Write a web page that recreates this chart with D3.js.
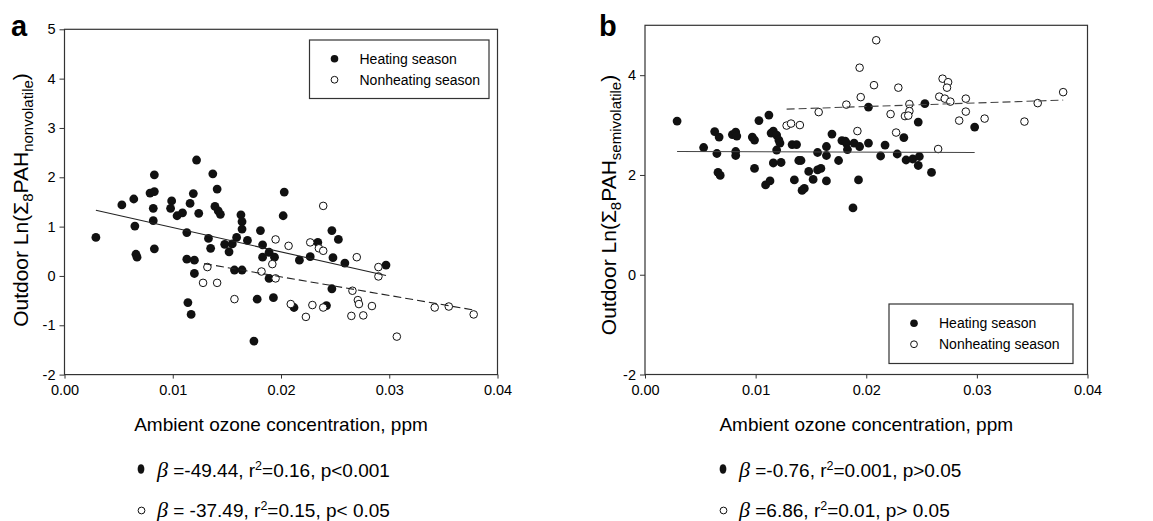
<!DOCTYPE html>
<html>
<head>
<meta charset="utf-8">
<script src="https://cdn.jsdelivr.net/npm/d3@7"></script>
<style>
  body { margin: 0; background: #fff; }
</style>
</head>
<body>
<div id="chart"></div>
<script>
// Data: [ozone ppm, Ln(PAH)]
const heatingA = [[0.0029,0.78],[0.0053,1.44],[0.0064,1.56],[0.0065,1.01],[0.0066,0.44],[0.0067,0.38],[0.0079,1.68],[0.0083,1.71],[0.0083,2.05],[0.0082,1.37],[0.0082,1.12],[0.0083,0.55],[0.0099,1.52],[0.0098,1.37],[0.0104,1.22],[0.0109,1.28],[0.0116,1.47],[0.0119,1.67],[0.0122,2.35],[0.0124,1.27],[0.0113,0.88],[0.0113,0.34],[0.0120,0.32],[0.0120,0.05],[0.0137,2.07],[0.0141,1.76],[0.0139,1.41],[0.0142,1.32],[0.0144,1.25],[0.0133,0.76],[0.0135,0.56],[0.0148,0.64],[0.0152,0.49],[0.0155,0.65],[0.0159,0.78],[0.0157,0.12],[0.0164,0.12],[0.0163,1.24],[0.0164,1.10],[0.0164,0.95],[0.0169,0.72],[0.0181,0.92],[0.0183,0.63],[0.0183,0.38],[0.0189,0.48],[0.0194,0.38],[0.0189,-0.05],[0.0203,1.70],[0.0202,1.22],[0.0217,0.32],[0.0227,0.39],[0.0234,0.68],[0.0247,0.92],[0.0253,0.74],[0.0248,0.37],[0.0259,0.26],[0.0297,0.22],[0.0247,-0.26],[0.0114,-0.54],[0.0117,-0.78],[0.0178,-0.47],[0.0193,-0.44],[0.0212,-0.64],[0.0242,-0.60],[0.0175,-1.32]];
const nonheatingA = [[0.0132,0.18],[0.0195,0.74],[0.0207,0.61],[0.0239,1.42],[0.0227,0.68],[0.0235,0.56],[0.0239,0.51],[0.0182,0.09],[0.0192,0.24],[0.0195,-0.05],[0.0270,0.38],[0.0290,0.18],[0.0290,-0.01],[0.0128,-0.14],[0.0141,-0.14],[0.0157,-0.47],[0.0209,-0.57],[0.0229,-0.59],[0.0223,-0.83],[0.0239,-0.64],[0.0266,-0.30],[0.0271,-0.49],[0.0272,-0.57],[0.0265,-0.81],[0.0276,-0.80],[0.0284,-0.61],[0.0307,-1.23],[0.0342,-0.64],[0.0355,-0.62],[0.0378,-0.78]];
const fitHeatingA = [[0.0029,1.33],[0.0297,0.01]];
const fitNonheatingA = [[0.0129,0.25],[0.0378,-0.69]];

const heatingB = [[0.0029,3.08],[0.0053,2.55],[0.0063,2.87],[0.0067,2.76],[0.0065,2.43],[0.0066,2.05],[0.0068,1.99],[0.0079,2.81],[0.0082,2.86],[0.0083,2.78],[0.0082,2.47],[0.0082,2.39],[0.0097,2.76],[0.0099,2.70],[0.0099,2.13],[0.0103,3.09],[0.0112,3.20],[0.0114,2.84],[0.0116,2.88],[0.0119,2.80],[0.0121,2.70],[0.0122,2.64],[0.0119,2.50],[0.0116,2.24],[0.0123,2.25],[0.0109,1.80],[0.0113,1.88],[0.0133,2.61],[0.0137,2.61],[0.0135,1.90],[0.0139,2.29],[0.0141,2.29],[0.0142,1.69],[0.0144,1.73],[0.0148,2.07],[0.0152,1.91],[0.0156,2.10],[0.0159,2.13],[0.0156,2.45],[0.0164,2.57],[0.0164,2.39],[0.0164,1.88],[0.0169,2.82],[0.0175,2.29],[0.0178,2.69],[0.0181,2.68],[0.0182,2.64],[0.0183,2.51],[0.0189,2.64],[0.0194,2.57],[0.0193,1.90],[0.0188,1.34],[0.0202,2.64],[0.0202,3.36],[0.0213,2.38],[0.0217,2.60],[0.0228,2.42],[0.0234,2.75],[0.0236,2.30],[0.0242,2.32],[0.0247,2.19],[0.0248,2.37],[0.0247,3.06],[0.0253,3.43],[0.0259,2.05],[0.0298,2.96]];
const nonheatingB = [[0.0128,2.99],[0.0132,3.03],[0.0140,3.00],[0.0157,3.26],[0.0182,3.41],[0.0194,4.15],[0.0195,3.56],[0.0192,2.88],[0.0207,3.80],[0.0209,4.70],[0.0222,3.22],[0.0229,3.75],[0.0227,2.85],[0.0235,3.18],[0.0239,3.42],[0.0239,3.28],[0.0238,3.19],[0.0265,2.52],[0.0266,3.57],[0.0269,3.93],[0.0274,3.86],[0.0273,3.75],[0.0271,3.53],[0.0276,3.47],[0.0284,3.09],[0.0290,3.53],[0.0290,3.27],[0.0307,3.13],[0.0343,3.07],[0.0355,3.44],[0.0378,3.66]];
const fitHeatingB = [[0.0029,2.47],[0.0298,2.45]];
const fitNonheatingB = [[0.0128,3.32],[0.0378,3.50]];

const xTicks = [0, 0.01, 0.02, 0.03, 0.04];
const yTicksA = [-2, -1, 0, 1, 2, 3, 4, 5];
const yTicksB = [-2, 0, 2, 4];
const legendLabels = ["Heating season", "Nonheating season"];
const xTitle = "Ambient ozone concentration, ppm";
// text before and after the superscript 2 of r²
const statsA = [[" =-49.44, r", "=0.16, p<0.001"], [" = -37.49, r", "=0.15, p< 0.05"]];
const statsB = [[" =-0.76, r", "=0.001, p>0.05"], [" =6.86, r", "=0.01, p> 0.05"]];

const W = 1153, H = 521;
const font = "'Liberation Sans', Arial, sans-serif";

const svg = d3.create("svg")
    .attr("width", W)
    .attr("height", H)
    .attr("font-family", font);

function drawPanel(p) {
    const x = d3.scaleLinear([0, 0.04], [p.left, p.right]);
    const y = d3.scaleLinear([-2, 5], [p.bottom, p.top]);
    const g = svg.append("g");

    // axes
    const ya = g.append("g")
        .attr("transform", `translate(${p.left},0)`)
        .call(d3.axisLeft(y).tickValues(p.yTicks).tickSize(5).tickPadding(4)
            .tickFormat(d => d < 0 ? "-" + Math.abs(d) : d));
    const xa = g.append("g")
        .attr("transform", `translate(0,${p.bottom})`)
        .call(d3.axisBottom(x).tickValues(xTicks).tickSize(4).tickPadding(6)
            .tickFormat(d3.format(".2f")));
    [ya, xa].forEach(a => {
        a.attr("font-family", font).attr("font-size", 14.5);
        a.select(".domain").remove();
        a.selectAll(".tick line").attr("stroke", "#333");
        a.selectAll(".tick text").attr("fill", "#000");
    });

    // frame
    g.append("rect")
        .attr("x", p.left).attr("y", p.top)
        .attr("width", p.right - p.left).attr("height", p.bottom - p.top)
        .attr("fill", "none").attr("stroke", "#333").attr("stroke-width", 1.2);

    // points
    g.append("g").selectAll("circle").data(p.heat).join("circle")
        .attr("cx", d => x(d[0])).attr("cy", d => y(d[1]))
        .attr("r", 4.4).attr("fill", "#111");
    g.append("g").selectAll("circle").data(p.nonheat).join("circle")
        .attr("cx", d => x(d[0])).attr("cy", d => y(d[1]))
        .attr("r", 3.8).attr("fill", "#fff").attr("stroke", "#111").attr("stroke-width", 1);

    // regression lines
    const line = d3.line().x(d => x(d[0])).y(d => y(d[1]));
    g.append("path").attr("d", line(p.fitHeat))
        .attr("fill", "none").attr("stroke", p.lineColor).attr("stroke-width", 1.1);
    g.append("path").attr("d", line(p.fitNon))
        .attr("fill", "none").attr("stroke", p.lineColor).attr("stroke-width", 1.1)
        .attr("stroke-dasharray", "8,4");

    // legend
    const lg = g.append("g");
    lg.append("rect")
        .attr("x", p.legX).attr("y", p.legY)
        .attr("width", p.legW).attr("height", p.legH)
        .attr("fill", "#fff").attr("stroke", "#333").attr("stroke-width", 1.2);
    legendLabels.forEach((lab, i) => {
        const cy = p.legY + (p.legH / 2) + (i === 0 ? -10.5 : 10.5);
        lg.append("circle")
            .attr("cx", p.legX + 25).attr("cy", cy).attr("r", i === 0 ? 3.8 : 3.4)
            .attr("fill", i === 0 ? "#111" : "#fff")
            .attr("stroke", "#111").attr("stroke-width", i === 0 ? 0 : 1);
        lg.append("text")
            .attr("x", p.legX + 50).attr("y", cy + 5)
            .attr("font-size", 14).text(lab);
    });

    // panel letter
    g.append("text")
        .attr("x", p.letterX).attr("y", 36)
        .attr("font-size", 29).attr("font-weight", "bold").text(p.letter);

    // x title
    g.append("text")
        .attr("x", (p.left + p.right) / 2).attr("y", 431)
        .attr("text-anchor", "middle").attr("font-size", 19).text(xTitle);

    // y title
    const yt = g.append("text")
        .attr("transform", `translate(${p.yTitleX},${p.yTitleY}) rotate(-90)`)
        .attr("text-anchor", "middle").attr("font-size", 21);
    yt.append("tspan").text("Outdoor Ln(\u03A3");
    yt.append("tspan").attr("font-size", 15).attr("dy", 5).text("8");
    yt.append("tspan").attr("dy", -5).text("PAH");
    yt.append("tspan").attr("font-size", 15).attr("dy", 5).text(p.sub);
    yt.append("tspan").attr("dy", -5).text(")");

    // regression statistics under the panel
    p.stats.forEach((s, i) => {
        const by = i === 0 ? 477 : 517;
        if (i === 0) {
            g.append("ellipse")
                .attr("cx", p.statX + 3).attr("cy", by - 8).attr("rx", 3.4).attr("ry", 4.8)
                .attr("fill", "#111");
        } else {
            g.append("circle")
                .attr("cx", p.statX + 3.5).attr("cy", by - 6.5).attr("r", 3.4)
                .attr("fill", "#fff").attr("stroke", "#111").attr("stroke-width", 1);
        }
        const t = g.append("text")
            .attr("x", p.statX + 19).attr("y", by).attr("font-size", 19)
            .attr("xml:space", "preserve");
        t.append("tspan").attr("font-family", "'Liberation Serif', serif")
            .attr("font-style", "italic").attr("font-size", 22).text("\u03B2");
        t.append("tspan").text(s[0]);
        t.append("tspan").attr("font-size", 12.5).attr("dy", -7).text("2");
        t.append("tspan").attr("dy", 7).text(s[1]);
    });
}

drawPanel({
    left: 64.5, right: 497.5, top: 29.3, bottom: 374.6,
    yTicks: yTicksA, heat: heatingA, nonheat: nonheatingA,
    fitHeat: fitHeatingA, fitNon: fitNonheatingA, lineColor: "#222",
    legX: 309.5, legY: 40, legW: 179.5, legH: 58.5,
    letter: "a", letterX: 11, yTitleX: 28, yTitleY: 200, sub: "nonvolatile",
    stats: statsA, statX: 138
});

drawPanel({
    left: 645, right: 1087.5, top: 25.3, bottom: 374.5,
    yTicks: yTicksB, heat: heatingB, nonheat: nonheatingB,
    fitHeat: fitHeatingB, fitNon: fitNonheatingB, lineColor: "#444",
    legX: 889, legY: 304, legW: 184, legH: 59.5,
    letter: "b", letterX: 599, yTitleX: 616, yTitleY: 205, sub: "semivolatile",
    stats: statsB, statX: 720
});

document.getElementById("chart").append(svg.node());
</script>
</body>
</html>
